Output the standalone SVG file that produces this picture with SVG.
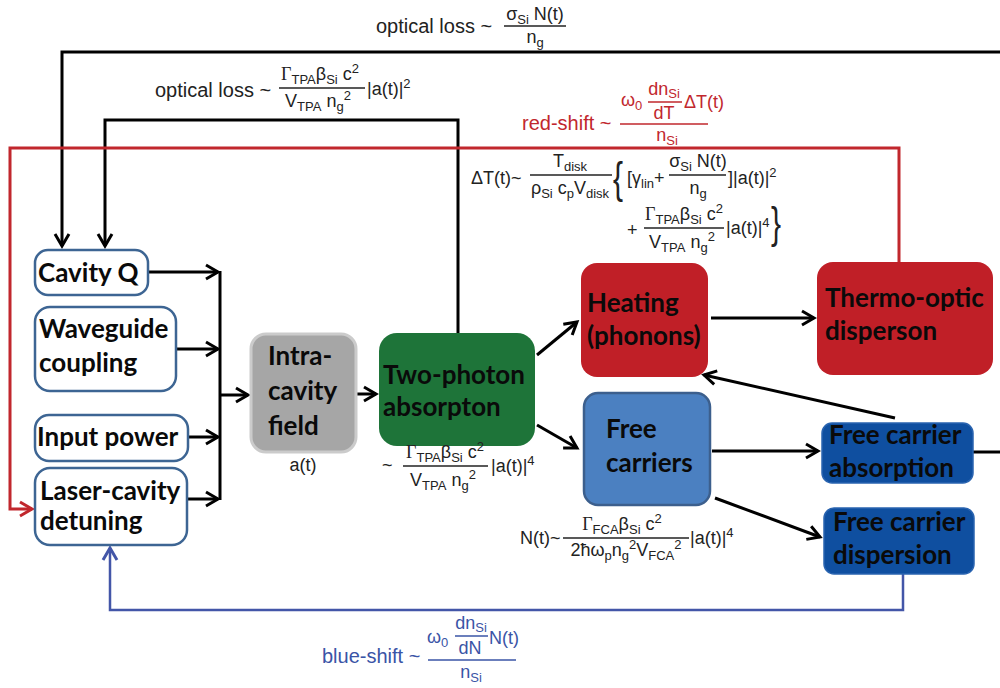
<svg xmlns="http://www.w3.org/2000/svg" width="1000" height="688" viewBox="0 0 1000 688">
  <defs>
    <style>
      .box { fill: #ffffff; stroke: #3d6593; stroke-width: 2.5; }
      .lbl { font-family: Lato, "Liberation Sans", sans-serif; font-weight: bold; font-size: 26px; fill: #0a0a0a; }
      .f { font-family: "Liberation Sans", Arial, sans-serif; font-size: 18px; fill: #222; }
      .big { font-size: 20px; }
      .sb { font-size: 13px; }
      .br { font-size: 30px; }
      .g { font-family: "Liberation Serif", serif; }
      .m { text-anchor: middle; }
      .red { fill: #c1272d; }
      .blue { fill: #3a54a6; }
      .bk { fill: none; stroke: #000; stroke-width: 3; }
      .fr { stroke: #222; stroke-width: 1.4; }
    </style>
    <marker id="ah" markerUnits="userSpaceOnUse" viewBox="-2 -2 17 18" markerWidth="17" markerHeight="18" refX="12" refY="7" orient="auto">
      <path d="M0,0 L12,7 L0,14" fill="none" stroke="#000" stroke-width="3"/>
    </marker>
    <marker id="ahr" markerUnits="userSpaceOnUse" viewBox="-2 -2 17 18" markerWidth="17" markerHeight="18" refX="12" refY="7" orient="auto">
      <path d="M0,0 L12,7 L0,14" fill="none" stroke="#c1272d" stroke-width="3"/>
    </marker>
    <marker id="ahb" markerUnits="userSpaceOnUse" viewBox="-2 -2 17 18" markerWidth="17" markerHeight="18" refX="12" refY="7" orient="auto">
      <path d="M0,0 L12,7 L0,14" fill="none" stroke="#4356a8" stroke-width="3"/>
    </marker>
  </defs>

  <!-- connectors -->
  <g id="connectors">
    <path class="bk" d="M1000,52 H62 V246" stroke-width="3.5" marker-end="url(#ah)"/>
    <path class="bk" d="M458,333 V120 H105 V246" marker-end="url(#ah)"/>
    <path d="M899,262 V148 H10 V509 H32" fill="none" stroke="#c1272d" stroke-width="3" marker-end="url(#ahr)"/>
    <path d="M903,574 V610 H110 V548" fill="none" stroke="#4356a8" stroke-width="2.5" marker-end="url(#ahb)"/>
    <path class="bk" d="M220,271 V500"/>
    <path class="bk" d="M148,272 H218" marker-end="url(#ah)"/>
    <path class="bk" d="M176,349 H218" marker-end="url(#ah)"/>
    <path class="bk" d="M189,437 H218" marker-end="url(#ah)"/>
    <path class="bk" d="M187,499 H218" marker-end="url(#ah)"/>
    <path class="bk" d="M220,395 H248" marker-end="url(#ah)"/>
    <path class="bk" d="M357,394 H376" marker-end="url(#ah)"/>
    <path class="bk" d="M537,355 L577,322" marker-end="url(#ah)"/>
    <path class="bk" d="M537,425 L577,448" marker-end="url(#ah)"/>
    <path class="bk" d="M711,318 H814" marker-end="url(#ah)"/>
    <path class="bk" d="M712,451 H818" marker-end="url(#ah)"/>
    <path class="bk" d="M715,498 L820,537" marker-end="url(#ah)"/>
    <path class="bk" d="M895,418 L704,375" marker-end="url(#ah)"/>
    <path class="bk" d="M973,452 H1000"/>
  </g>

  <!-- input nodes -->
  <g id="cavity-q">
    <rect class="box" x="35" y="250" width="113" height="45" rx="13"/>
    <text class="lbl" x="38" y="282">Cavity Q</text>
  </g>
  <g id="waveguide-coupling">
    <rect class="box" x="35" y="307" width="141" height="84" rx="15"/>
    <text class="lbl" x="39" y="338">Waveguide</text>
    <text class="lbl" x="39" y="372">coupling</text>
  </g>
  <g id="input-power">
    <rect class="box" x="35" y="415" width="153" height="46" rx="14"/>
    <text class="lbl" x="37" y="446">Input power</text>
  </g>
  <g id="laser-cavity-detuning">
    <rect class="box" x="35" y="468" width="152" height="77" rx="15"/>
    <text class="lbl" x="40" y="500">Laser-cavity</text>
    <text class="lbl" x="40" y="530">detuning</text>
  </g>

  <!-- processing nodes -->
  <g id="intracavity-field">
    <rect x="251" y="334" width="105" height="118" rx="15" fill="#a6a6a6" stroke="#cbcbcb" stroke-width="3"/>
    <text class="lbl" x="268" y="365">Intra-</text>
    <text class="lbl" x="268" y="400">cavity</text>
    <text class="lbl" x="268" y="435">field</text>
    <text class="f m" x="303" y="471">a(t)</text>
  </g>
  <g id="two-photon-absorption">
    <rect x="379" y="333" width="156" height="113" rx="18" fill="#1e7439"/>
    <text class="lbl" x="383" y="384">Two-photon</text>
    <text class="lbl" x="383" y="416">absorpton</text>
  </g>
  <g id="heating">
    <rect x="581" y="263" width="127" height="114" rx="16" fill="#c01f27"/>
    <text class="lbl" x="587" y="312">Heating</text>
    <text class="lbl" x="587" y="345">(phonons)</text>
  </g>
  <g id="thermo-optic-dispersion">
    <rect x="817" y="262" width="176" height="113" rx="16" fill="#c01f27"/>
    <text class="lbl" x="825" y="307">Thermo-optic</text>
    <text class="lbl" x="825" y="340">disperson</text>
  </g>
  <g id="free-carriers">
    <rect x="584" y="393" width="126" height="112" rx="14" fill="#4b80c1" stroke="#3c5f8d" stroke-width="2.5"/>
    <text class="lbl" x="606" y="438">Free</text>
    <text class="lbl" x="606" y="472">carriers</text>
  </g>
  <g id="free-carrier-absorption">
    <rect x="822" y="423" width="151" height="60" rx="10" fill="#0f4fa0" stroke="#2a64b0" stroke-width="1.5"/>
    <text class="lbl" x="829" y="444">Free carrier</text>
    <text class="lbl" x="829" y="477">absorption</text>
  </g>
  <g id="free-carrier-dispersion">
    <rect x="824" y="508" width="150" height="66" rx="10" fill="#0f4fa0" stroke="#2a64b0" stroke-width="1.5"/>
    <text class="lbl" x="833" y="531">Free carrier</text>
    <text class="lbl" x="833" y="564">dispersion</text>
  </g>

  <!-- equations -->
  <g id="eq-loss-fc">
    <text class="f big" x="376" y="33">optical loss ~</text>
    <text class="f m" x="535" y="20">σ<tspan class="sb" dy="4">Si</tspan><tspan dy="-4"> N(t)</tspan></text>
    <line class="fr" x1="504" y1="26" x2="566" y2="26"/>
    <text class="f m" x="535" y="43">n<tspan class="sb" dy="4">g</tspan></text>
  </g>
  <g id="eq-loss-tpa">
    <text class="f big" x="155" y="97">optical loss ~</text>
    <text class="f m" x="320" y="80"><tspan class="g">Γ</tspan><tspan class="sb" dy="4">TPA</tspan><tspan dy="-4">β</tspan><tspan class="sb" dy="4">Si</tspan><tspan dy="-4"> c</tspan><tspan class="sb" dy="-7">2</tspan></text>
    <line class="fr" x1="279" y1="88" x2="365" y2="88"/>
    <text class="f m" x="318" y="107">V<tspan class="sb" dy="4">TPA</tspan><tspan dy="-4"> n</tspan><tspan class="sb" dy="4">g</tspan><tspan class="sb" dy="-11">2</tspan></text>
    <text class="f" x="367" y="95">|a(t)|<tspan class="sb" dy="-7">2</tspan></text>
  </g>
  <g id="eq-red-shift">
    <text class="f big red" x="522" y="130">red-shift ~</text>
    <text class="f red" x="621" y="106">ω<tspan class="sb" dy="4">0</tspan></text>
    <text class="f red m" x="664" y="95">dn<tspan class="sb" dy="3">Si</tspan></text>
    <line x1="648" y1="102" x2="682" y2="102" stroke="#c1272d" stroke-width="1.3"/>
    <text class="f red m" x="664" y="119">dT</text>
    <text class="f red" x="684" y="108">ΔT(t)</text>
    <line x1="620" y1="124" x2="708" y2="124" stroke="#c1272d" stroke-width="1.4"/>
    <text class="f red m" x="667" y="141">n<tspan class="sb" dy="4">Si</tspan></text>
  </g>
  <g id="eq-temperature">
    <text class="f" x="471" y="184">ΔT(t)~</text>
    <text class="f m" x="570" y="167">T<tspan class="sb" dy="4">disk</tspan></text>
    <line class="fr" x1="530" y1="175" x2="612" y2="175"/>
    <text class="f m" x="570" y="194">ρ<tspan class="sb" dy="4">Si</tspan><tspan dy="-4"> c</tspan><tspan class="sb" dy="4">p</tspan><tspan dy="-4">V</tspan><tspan class="sb" dy="4">disk</tspan></text>
    <text class="f br" transform="translate(613,193) scale(1,1.45)">{</text>
    <text class="f" x="627" y="184">[γ<tspan class="sb" dy="4">lin</tspan><tspan dy="-4">+</tspan></text>
    <text class="f m" x="698" y="167">σ<tspan class="sb" dy="4">Si</tspan><tspan dy="-4"> N(t)</tspan></text>
    <line class="fr" x1="669" y1="175" x2="726" y2="175"/>
    <text class="f m" x="698" y="194">n<tspan class="sb" dy="4">g</tspan></text>
    <text class="f" x="728" y="184">]|a(t)|<tspan class="sb" dy="-7">2</tspan></text>
    <text class="f" x="627" y="236">+</text>
    <text class="f m" x="684" y="220"><tspan class="g">Γ</tspan><tspan class="sb" dy="4">TPA</tspan><tspan dy="-4">β</tspan><tspan class="sb" dy="4">Si</tspan><tspan dy="-4"> c</tspan><tspan class="sb" dy="-7">2</tspan></text>
    <line class="fr" x1="644" y1="228" x2="724" y2="228"/>
    <text class="f m" x="682" y="248">V<tspan class="sb" dy="4">TPA</tspan><tspan dy="-4"> n</tspan><tspan class="sb" dy="4">g</tspan><tspan class="sb" dy="-11">2</tspan></text>
    <text class="f" x="726" y="234">|a(t)|<tspan class="sb" dy="-7">4</tspan></text>
    <text class="f br" transform="translate(771,238) scale(1,1.45)">}</text>
  </g>
  <g id="eq-tpa-rate">
    <text class="f" x="382" y="471">~</text>
    <text class="f m" x="445" y="458"><tspan class="g">Γ</tspan><tspan class="sb" dy="4">TPA</tspan><tspan dy="-4">β</tspan><tspan class="sb" dy="4">Si</tspan><tspan dy="-4"> c</tspan><tspan class="sb" dy="-7">2</tspan></text>
    <line class="fr" x1="403" y1="466" x2="488" y2="466"/>
    <text class="f m" x="443" y="486">V<tspan class="sb" dy="4">TPA</tspan><tspan dy="-4"> n</tspan><tspan class="sb" dy="4">g</tspan><tspan class="sb" dy="-11">2</tspan></text>
    <text class="f" x="491" y="472">|a(t)|<tspan class="sb" dy="-7">4</tspan></text>
  </g>
  <g id="eq-carriers">
    <text class="f" x="520" y="544">N(t)~</text>
    <text class="f m" x="622" y="530"><tspan class="g">Γ</tspan><tspan class="sb" dy="4">FCA</tspan><tspan dy="-4">β</tspan><tspan class="sb" dy="4">Si</tspan><tspan dy="-4"> c</tspan><tspan class="sb" dy="-7">2</tspan></text>
    <line class="fr" x1="563" y1="538" x2="689" y2="538"/>
    <text class="f m" x="626" y="556">2ħω<tspan class="sb" dy="4">p</tspan><tspan dy="-4">n</tspan><tspan class="sb" dy="4">g</tspan><tspan class="sb" dy="-11">2</tspan><tspan dy="7">V</tspan><tspan class="sb" dy="4">FCA</tspan><tspan class="sb" dy="-11">2</tspan></text>
    <text class="f" x="690" y="544">|a(t)|<tspan class="sb" dy="-7">4</tspan></text>
  </g>
  <g id="eq-blue-shift">
    <text class="f big blue" x="322" y="663">blue-shift ~</text>
    <text class="f blue" x="427" y="643">ω<tspan class="sb" dy="4">0</tspan></text>
    <text class="f blue m" x="471" y="629">dn<tspan class="sb" dy="3">Si</tspan></text>
    <line x1="455" y1="636" x2="488" y2="636" stroke="#3a54a6" stroke-width="1.3"/>
    <text class="f blue m" x="470" y="654">dN</text>
    <text class="f blue" x="489" y="644">N(t)</text>
    <line x1="428" y1="660" x2="516" y2="660" stroke="#3a54a6" stroke-width="1.4"/>
    <text class="f blue m" x="471" y="678">n<tspan class="sb" dy="4">Si</tspan></text>
  </g>
</svg>
